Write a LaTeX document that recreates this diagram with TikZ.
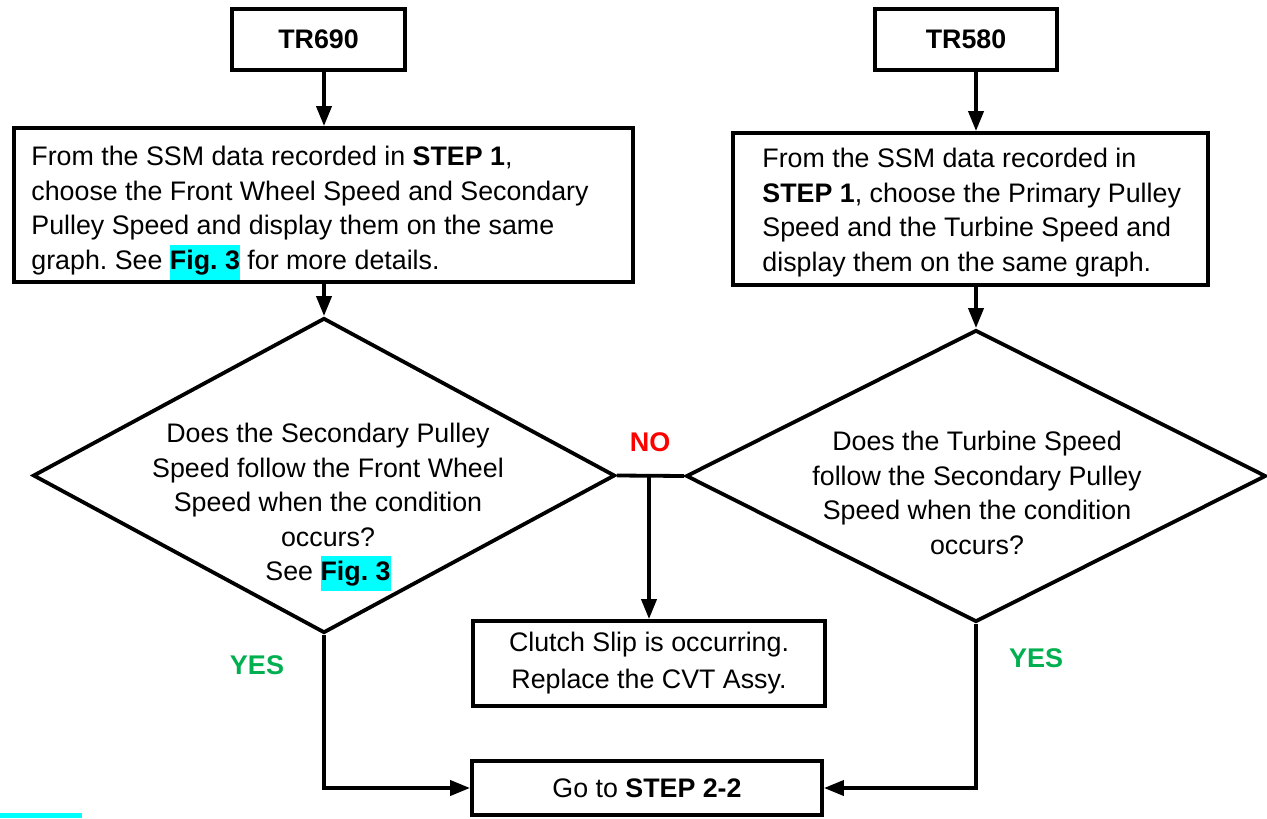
\documentclass[tikz,border=0pt]{standalone}
\usepackage{fontspec}
\setmainfont{Liberation Sans}
\usetikzlibrary{shapes.geometric,arrows.meta}
\definecolor{yesgreen}{HTML}{00B050}
\definecolor{nored}{HTML}{FF0000}
\definecolor{hlcyan}{HTML}{00FFFF}
\newcommand{\hlfig}[1]{{\setlength{\fboxsep}{0pt}\colorbox{hlcyan}{\strut\textbf{#1}}}}
\frenchspacing
\begin{document}
\begin{tikzpicture}[x=0.5pt,y=-0.5pt,
  font=\fontsize{13.4}{17.25}\selectfont,
  every node/.style={inner sep=0pt},
  procbox/.style={draw=black,line width=1.9pt,rectangle,fill=white},
  decbox/.style={draw=black,line width=1.9pt,diamond,fill=white},
  txt/.style={align=left,anchor=west},
  arr/.style={line width=1.9pt,-{Triangle[length=10pt,width=7.5pt]}},
  conn/.style={line width=1.9pt},
  yeslbl/.style={text=yesgreen,font=\fontsize{13.5}{15}\selectfont\bfseries},
  nolbl/.style={text=nored,font=\fontsize{13.5}{15}\selectfont\bfseries}]
\useasboundingbox (0,0) rectangle (1267,818);
\fill[hlcyan] (0,813) rectangle (82,818);

\node[procbox,minimum width=86.5pt,minimum height=30.5pt] (tr690) at (318.5,39.5) {\textbf{TR690}};
\node[procbox,minimum width=91pt,minimum height=30.5pt] (tr580) at (966,39.5) {\textbf{TR580}};

\node[procbox,minimum width=309.5pt,minimum height=77pt] (box1) at (323.5,205) {};
\node[txt] (b1t) at (31,213)
 {From the SSM data recorded in \textbf{STEP 1},\\choose the Front Wheel Speed and Secondary\\Pulley Speed and display them on the same\\graph. See \hlfig{Fig. 3} for more details.};
\node[procbox,minimum width=237.5pt,minimum height=76pt] (box2) at (970.5,209) {};
\node[txt] (b2t) at (762,212.5)
 {From the SSM data recorded in\\\textbf{STEP 1}, choose the Primary Pulley\\Speed and the Turbine Speed and\\display them on the same graph.};

\node[decbox,minimum width=291pt,minimum height=157.5pt] (d1) at (324,475.5) {};
\node[decbox,minimum width=290pt,minimum height=146pt] (d2) at (976,476) {};

\node[align=center] (d1t) at (328,507)
 {Does the Secondary Pulley\\Speed follow the Front Wheel\\Speed when the condition\\occurs?\\See \hlfig{Fig. 3}};
\node[align=center] (d2t) at (977,493)
 {Does the Turbine Speed\\follow the Secondary Pulley\\Speed when the condition\\occurs?};

\node[procbox,minimum width=176pt,minimum height=42.5pt,align=center,font=\fontsize{13.4}{18.5}\selectfont] (clutch) at (649,663.5)
 {Clutch Slip is occurring.\\Replace the CVT Assy.};
\node[procbox,minimum width=175pt,minimum height=27pt] (go) at (647,788)
 {Go to \textbf{STEP 2-2}};

\node[nolbl] (no) at (650,442.5) {NO};
\node[yeslbl] (yes1) at (257,665) {YES};
\node[yeslbl] (yes2) at (1036,658) {YES};

\draw[arr] (tr690.south -| d1.north) -- (box1.north -| d1.north);
\draw[arr] (box1.south -| d1.north) -- (d1.north);
\draw[arr] (tr580.south -| d2.north) -- (box2.north -| d2.north);
\draw[arr] (box2.south -| d2.north) -- (d2.north);
\draw[conn] (d1.east) -- (d2.west);
\draw[arr] (clutch.north |- d1.east) -- (clutch.north);
\draw[arr] (d1.south) -- (d1.south |- go.west) -- (go.west);
\draw[arr] (d2.south) -- (d2.south |- go.east) -- (go.east);
\end{tikzpicture}
\end{document}
